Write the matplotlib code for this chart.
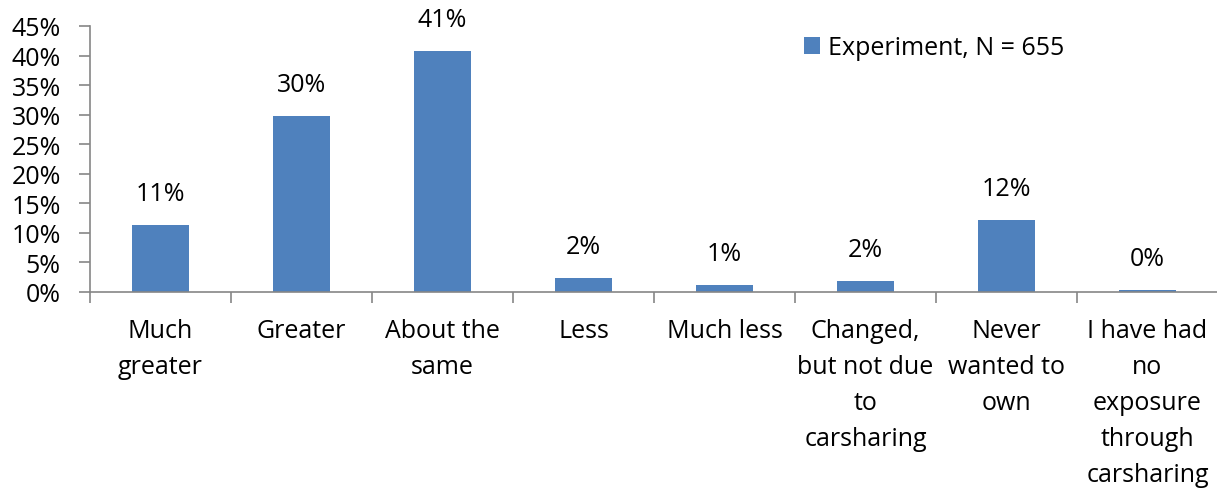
import matplotlib
matplotlib.use("Agg")
import matplotlib.pyplot as plt
from matplotlib.ticker import FuncFormatter, FixedLocator

plt.rcParams["font.family"] = ["Open Sans", "DejaVu Sans"]

categories = [
    "Much\ngreater",
    "Greater",
    "About the\nsame",
    "Less",
    "Much less",
    "Changed,\nbut not due\nto\ncarsharing",
    "Never\nwanted to\nown",
    "I have had\nno\nexposure\nthrough\ncarsharing",
]
values = [11.4, 29.8, 40.8, 2.4, 1.2, 1.9, 12.2, 0.4]
series_name = "Experiment, N = 655"
yticks = [0, 5, 10, 15, 20, 25, 30, 35, 40, 45]

bar_color = "#4F81BD"
axis_color = "#868686"
fs = 18

W, H, DPI = 1217, 489, 100
fig = plt.figure(figsize=(W / DPI, H / DPI), dpi=DPI)
ax = fig.add_axes([90 / W, (H - 293) / H, (1218 - 90) / W, (293 - 27) / H])

x = list(range(len(categories)))
ax.bar(x, values, width=0.4, color=bar_color, label=series_name, zorder=2)

for xi, v in zip(x, values):
    ax.annotate(f"{v:.0f}%", (xi, v), xytext=(0, 22.5), textcoords="offset points",
                ha="center", va="center", fontsize=fs, color="black")

ax.set_xlim(-0.5, len(categories) - 0.5)
ax.set_ylim(0, 45)
ax.set_yticks(yticks)
ax.yaxis.set_major_formatter(FuncFormatter(lambda v, _: f"{v:.0f}%"))

ax.set_xticks(x)
ax.set_xticklabels(categories, fontsize=fs, linespacing=1.57, va="top")
ax.xaxis.set_minor_locator(FixedLocator([i - 0.5 for i in range(len(categories) + 1)]))
ax.tick_params(axis="x", which="major", length=0, pad=19)
ax.tick_params(axis="x", which="minor", length=8, width=1.2, color=axis_color, direction="out")
ax.tick_params(axis="y", length=8, width=1.2, color=axis_color, direction="out",
               labelsize=fs, pad=13)

for side in ("top", "right"):
    ax.spines[side].set_visible(False)
for side in ("left", "bottom"):
    ax.spines[side].set_color(axis_color)
    ax.spines[side].set_linewidth(1.2)

ax.legend(loc="center left", bbox_to_anchor=((804 - 90) / 1128, (293 - 49) / 266),
          frameon=False, fontsize=fs, handlelength=0.65, handleheight=0.65,
          handletextpad=0.3, borderpad=0, borderaxespad=0)

fig.savefig("out.png", dpi=DPI)
